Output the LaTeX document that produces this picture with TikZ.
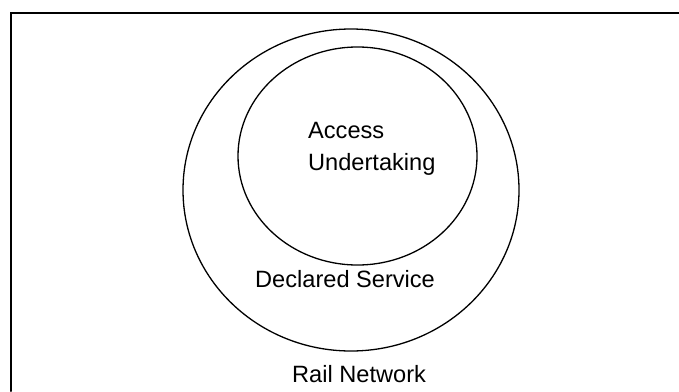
\documentclass[tikz,border=0pt]{standalone}
\usepackage{fontspec}
\setmainfont{Liberation Sans}
\begin{document}
\begin{tikzpicture}[x=1pt, y=-1pt, line cap=round,
    label text/.style={inner sep=0pt, anchor=base west,
                       font=\fontsize{23.6}{28}\selectfont}]
  \useasboundingbox (0,0) rectangle (679,391);
  % Frame, only its top and left sides.
  \draw[line width=2pt] (11,391) -- (11,13) -- (679,13);
  % Two nested ellipses.
  \coordinate (O) at (351,190);
  \coordinate (I) at (357.5,156);
  \draw[line width=1.3pt] (O) ellipse [x radius=168pt, y radius=161pt];
  \draw[line width=1.3pt] (I) ellipse [x radius=119.5pt, y radius=109pt];
  % Labels.
  \node[label text] (access) at (308,138)   {Access};
  \node[label text] (undert) at (308,170.7) {Undertaking};
  \node[label text] (decl)   at (255,287)   {Declared Service};
  \node[label text] (rail)   at (292,382)   {Rail Network};
\end{tikzpicture}
\end{document}
